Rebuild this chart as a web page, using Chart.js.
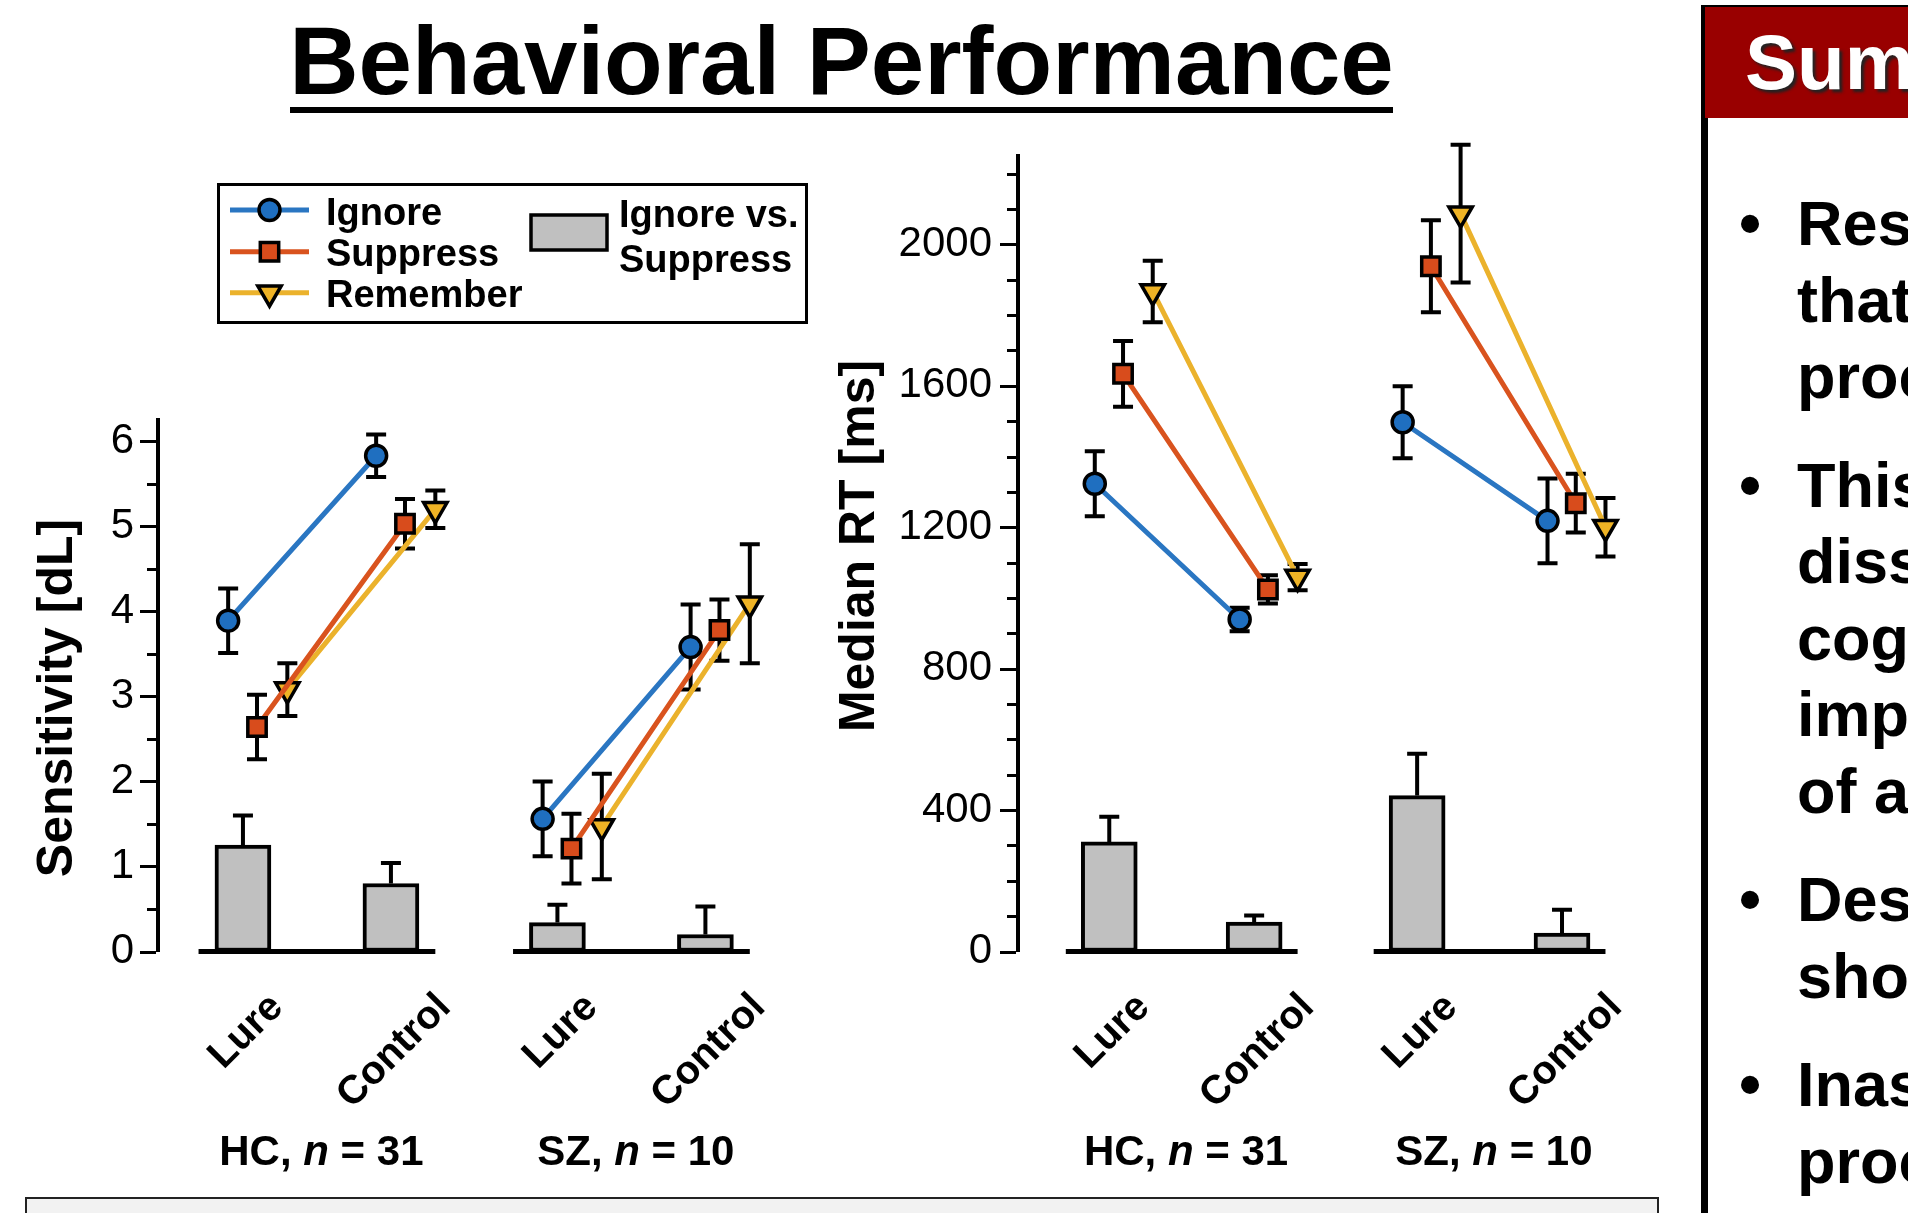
<!DOCTYPE html>
<html>
<head>
<meta charset="utf-8">
<title>Behavioral Performance</title>
<script src="https://cdn.jsdelivr.net/npm/chart.js@4.4.0/dist/chart.umd.min.js"></script>
<style>
  html, body { margin: 0; padding: 0; background: #fff; }
  body { width: 1908px; height: 1213px; position: relative; overflow: hidden;
         font-family: "Liberation Sans", Arial, sans-serif; color: #000; }
  #title { position: absolute; left: 0; top: 13px; width: 1683px; text-align: center;
           font-weight: bold; font-size: 96px; line-height: 96px; white-space: nowrap; }
  #rule { position: absolute; left: 290px; top: 107px; width: 1103px; height: 6px; background: #000; }
  #footer { position: absolute; left: 25px; top: 1197px; width: 1630px; height: 40px;
            background: #f2f2f2; border: 2px solid #222; }
  #leftChart { position: absolute; left: 0; top: 140px; }
  #rightChart { position: absolute; left: 820px; top: 100px; }
  #summary { position: absolute; left: 1701px; top: 5px; width: 260px; height: 1260px;
             border-left: 4px solid #000; border-top: 2px solid #000; }
  #summary .head { height: 111px; background: #990000; color: #fff; font-weight: bold;
                   font-size: 78px; line-height: 111px; padding-left: 40px; white-space: nowrap;
                   text-shadow: 3px 3px 3px #222; }
  #summary .body { border-left: 3px solid #000; height: 1200px; padding-top: 67px; box-sizing: border-box; }
  #summary .item { position: relative; padding-left: 89px; margin-bottom: 32px; font-weight: bold;
                   font-size: 63px; line-height: 76.5px; white-space: nowrap; }
  #summary .item span { position: absolute; left: 31px; top: 0; }
</style>
</head>
<body>
<div id="title">Behavioral Performance</div>
<div id="rule"></div>
<canvas id="leftChart" width="815" height="1073"></canvas>
<canvas id="rightChart" width="840" height="1113"></canvas>
<div id="footer"></div>
<div id="summary">
  <div class="head">Summary</div>
  <div class="body">
    <div class="item"><span>•</span>Results suggest<br>that lure<br>processing</div>
    <div class="item"><span>•</span>This suggests a<br>dissociation<br>cognitive control<br>impairments<br>of attention</div>
    <div class="item"><span>•</span>Despite this, SZ<br>showed</div>
    <div class="item"><span>•</span>Inasmuch as<br>processing</div>
  </div>
</div>

<script>
// groups and conditions (order of every value array: HC Lure, HC Control, SZ Lure, SZ Control)
const groupNames = ['HC', 'SZ'];
const groupN = [31, 10];
const conditions = ['Lure', 'Control'];
const seriesNames = ['Ignore', 'Suppress', 'Remember'];
const diffLabel = ['Ignore vs.', 'Suppress'];

// Sensitivity [dL]
const dlIgnore = [3.89, 5.83, 1.56, 3.58];
const dlIgnoreErr = [0.38, 0.25, 0.44, 0.50];
const dlSuppress = [2.64, 5.03, 1.21, 3.78];
const dlSuppressErr = [0.38, 0.29, 0.41, 0.36];
const dlRemember = [3.08, 5.20, 1.47, 4.09];
const dlRememberErr = [0.31, 0.22, 0.62, 0.70];
const dlDiff = [1.25, 0.80, 0.34, 0.20];
const dlDiffErr = [0.35, 0.24, 0.21, 0.33];
const dlTicks = [0, 1, 2, 3, 4, 5, 6];

// Median RT [ms]
const rtIgnore = [1323, 939, 1497, 1218];
const rtIgnoreErr = [92, 33, 102, 120];
const rtSuppress = [1634, 1024, 1938, 1268];
const rtSuppressErr = [93, 40, 130, 83];
const rtRemember = [1867, 1059, 2087, 1200];
const rtRememberErr = [87, 37, 195, 83];
const rtDiff = [310, 83, 441, 52];
const rtDiffErr = [71, 19, 118, 66];
const rtTicks = [0, 400, 800, 1200, 1600, 2000];

// layout of the x positions (in condition units)
const groupPos = [0, 2.125];
const condPos = [0, 1];
const seriesOffset = [-0.1, 0.095, 0.3];

// styles
const FONT = '"Liberation Sans", Arial, sans-serif';
const lineColor = ['#2a76c2', '#d9531e', '#ebb22c'];
const markerFill = ['#1f6fc0', '#d84c1c', '#efb325'];
const markerStyle = ['circle', 'rect', 'triangle'];
const markerRadius = [10.5, 13, 13.5];
const markerRotation = [0, 0, 180];
const ERR_W = 4;

Chart.defaults.font.family = FONT;

function xAt(i) {
  return groupPos[Math.floor(i / 2)] + condPos[i % 2];
}

function seriesPoints(values, off) {
  const pts = [];
  values.forEach((v, i) => {
    if (i === 2) pts.push({ x: (xAt(1) + xAt(2)) / 2, y: null });
    pts.push({ x: xAt(i) + off, y: v });
  });
  return pts;
}

function isTick(list, v) {
  return list.some(t => Math.abs(t - v) < 1e-6);
}

function drawMarker(ctx, s, x, y) {
  const opts = {
    pointStyle: markerStyle[s], radius: markerRadius[s], rotation: markerRotation[s],
    borderWidth: 3.5
  };
  ctx.save();
  ctx.fillStyle = markerFill[s];
  ctx.strokeStyle = '#000';
  ctx.lineWidth = 3.5;
  Chart.helpers.drawPoint(ctx, opts, x, y);
  ctx.restore();
}

function decorPlugin(cfg) {
  return {
    id: 'decor',
    beforeDatasetsDraw(chart) {
      const ctx = chart.ctx, xs = chart.scales.x, ys = chart.scales.y;
      ctx.save();
      ctx.strokeStyle = '#000';
      ctx.lineWidth = ERR_W;
      cfg.series.forEach((vals, s) => {
        vals.forEach((v, i) => {
          const e = cfg.seriesErr[s][i];
          const x = xs.getPixelForValue(xAt(i) + seriesOffset[s]);
          const yT = ys.getPixelForValue(v + e), yB = ys.getPixelForValue(v - e);
          ctx.beginPath();
          ctx.moveTo(x, yT); ctx.lineTo(x, yB);
          ctx.moveTo(x - 10, yT); ctx.lineTo(x + 10, yT);
          ctx.moveTo(x - 10, yB); ctx.lineTo(x + 10, yB);
          ctx.stroke();
        });
      });
      ctx.restore();
    },
    afterDatasetsDraw(chart) {
      const ctx = chart.ctx, xs = chart.scales.x, ys = chart.scales.y;
      const area = chart.chartArea;
      const y0 = ys.getPixelForValue(0);
      ctx.save();
      ctx.strokeStyle = '#000';
      // one-sided error bars on the difference bars
      ctx.lineWidth = ERR_W;
      cfg.diff.forEach((v, i) => {
        const x = xs.getPixelForValue(xAt(i));
        const yT = ys.getPixelForValue(v + cfg.diffErr[i]);
        const yB = ys.getPixelForValue(v);
        ctx.beginPath();
        ctx.moveTo(x, yB); ctx.lineTo(x, yT);
        ctx.moveTo(x - 10, yT); ctx.lineTo(x + 10, yT);
        ctx.stroke();
      });
      // baselines of each group
      ctx.lineWidth = 5;
      groupPos.forEach(g => {
        ctx.beginPath();
        ctx.moveTo(xs.getPixelForValue(g + condPos[0] - 0.3), y0);
        ctx.lineTo(xs.getPixelForValue(g + condPos[1] + 0.3), y0);
        ctx.stroke();
      });
      // y tick marks, major and minor
      ctx.lineWidth = 3;
      for (let k = 0; k * cfg.minorStep <= cfg.yMax + 1e-9; k++) {
        const v = k * cfg.minorStep;
        const major = isTick(cfg.ticks, v);
        const y = Math.round(ys.getPixelForValue(v)) + 0.5;
        ctx.beginPath();
        ctx.moveTo(area.left - 2 - (major ? 16 : 9), y);
        ctx.lineTo(area.left - 2, y);
        ctx.stroke();
      }
      ctx.restore();
    },
    afterDraw(chart) {
      const ctx = chart.ctx, xs = chart.scales.x, ys = chart.scales.y;
      const y0 = ys.getPixelForValue(0);
      ctx.save();
      ctx.fillStyle = '#000';
      // rotated condition labels
      ctx.font = 'bold 40px ' + FONT;
      ctx.textAlign = 'center';
      ctx.textBaseline = 'middle';
      [0, 1, 2, 3].forEach(i => {
        const txt = conditions[i % 2];
        const w = ctx.measureText(txt).width;
        const ext = (w + 40 * 0.72) * Math.SQRT1_2;
        ctx.save();
        ctx.translate(xs.getPixelForValue(xAt(i)) + 2, y0 + 38 + ext / 2);
        ctx.rotate(-Math.PI / 4);
        ctx.fillText(txt, 0, 2);
        ctx.restore();
      });
      // group labels "HC, n = 31"
      ctx.textAlign = 'left';
      ctx.textBaseline = 'alphabetic';
      groupNames.forEach((g, k) => {
        const parts = [
          ['bold 42px ', g + ', '],
          ['italic bold 42px ', 'n'],
          ['bold 42px ', ' = ' + groupN[k]]
        ];
        let total = 0;
        parts.forEach(p => { ctx.font = p[0] + FONT; total += ctx.measureText(p[1]).width; });
        let x = xs.getPixelForValue(groupPos[k] + 0.53) - total / 2;
        parts.forEach(p => {
          ctx.font = p[0] + FONT;
          ctx.fillText(p[1], x, y0 + 213.5);
          x += ctx.measureText(p[1]).width;
        });
      });
      // y axis title
      ctx.save();
      ctx.font = 'bold 50px ' + FONT;
      ctx.textAlign = 'center';
      ctx.textBaseline = 'middle';
      ctx.translate(cfg.titleX, cfg.titleY);
      ctx.rotate(-Math.PI / 2);
      ctx.fillText(cfg.title, 0, 0);
      ctx.restore();
      // legend (left chart only)
      if (cfg.legend) {
        const L = cfg.legend;
        ctx.lineWidth = 3;
        ctx.strokeStyle = '#000';
        ctx.strokeRect(L.x, L.y, L.w, L.h);
        ctx.font = 'bold 38px ' + FONT;
        seriesNames.forEach((name, s) => {
          const ry = L.rowY[s];
          ctx.strokeStyle = lineColor[s];
          ctx.lineWidth = 5;
          ctx.beginPath();
          ctx.moveTo(L.lineX0, ry); ctx.lineTo(L.lineX1, ry);
          ctx.stroke();
          drawMarker(ctx, s, (L.lineX0 + L.lineX1) / 2, ry);
          ctx.fillStyle = '#000';
          ctx.fillText(name, L.textX, ry + 14.5);
        });
        ctx.fillStyle = '#c0c0c0';
        ctx.fillRect(L.boxX, L.boxY, L.boxW, L.boxH);
        ctx.strokeStyle = '#000';
        ctx.lineWidth = 3.5;
        ctx.strokeRect(L.boxX, L.boxY, L.boxW, L.boxH);
        ctx.fillStyle = '#000';
        diffLabel.forEach((t, k) => ctx.fillText(t, L.diffTextX, L.diffBase[k]));
      }
      ctx.restore();
    }
  };
}

function makeChart(id, cfg) {
  const datasets = cfg.series.map((vals, s) => ({
    type: 'line',
    label: seriesNames[s],
    data: seriesPoints(vals, seriesOffset[s]),
    borderColor: lineColor[s],
    borderWidth: 5,
    tension: 0,
    spanGaps: false,
    clip: false,
    pointStyle: markerStyle[s],
    pointRadius: markerRadius[s],
    pointRotation: markerRotation[s],
    pointBackgroundColor: markerFill[s],
    pointBorderColor: '#000',
    pointBorderWidth: 3.5,
    order: s + 1
  }));
  datasets.push({
    type: 'bar',
    label: diffLabel.join(' '),
    data: cfg.diff.map((v, i) => ({ x: xAt(i), y: v })),
    backgroundColor: '#c0c0c0',
    borderColor: '#000',
    borderWidth: 4,
    borderSkipped: false,
    barThickness: 56,
    order: 10
  });

  return new Chart(document.getElementById(id), {
    type: 'line',
    data: { datasets },
    options: {
      responsive: false,
      animation: false,
      devicePixelRatio: 1,
      layout: { padding: cfg.padding },
      plugins: { legend: { display: false }, tooltip: { enabled: false } },
      scales: {
        x: { type: 'linear', offset: false, min: cfg.xMin, max: cfg.xMax, display: false },
        y: {
          type: 'linear', min: 0, max: cfg.yMax,
          afterFit: scale => { scale.width = cfg.axisWidth; },
          grid: { display: false, drawTicks: false },
          border: { display: true, color: '#000', width: 4 },
          ticks: {
            stepSize: cfg.minorStep,
            includeBounds: false,
            autoSkip: false,
            padding: cfg.tickPad,
            color: '#000',
            font: { size: 42, family: FONT },
            callback: v => isTick(cfg.ticks, v) ? String(Math.round(v)) : ''
          }
        }
      }
    },
    plugins: [decorPlugin(cfg)]
  });
}

// Sensitivity chart
makeChart('leftChart', {
  series: [dlIgnore, dlSuppress, dlRemember],
  seriesErr: [dlIgnoreErr, dlSuppressErr, dlRememberErr],
  diff: dlDiff,
  diffErr: dlDiffErr,
  ticks: dlTicks,
  minorStep: 0.5,
  yMax: 6.25,
  xMin: -0.574,
  xMax: 3.602,
  axisWidth: 158,
  tickPad: 24,
  padding: { top: 280, bottom: 261.5, left: 0, right: 39 },
  title: 'Sensitivity [dL]',
  titleX: 58,
  titleY: 558,
  legend: {
    x: 218.5, y: 44.5, w: 588, h: 138,
    rowY: [70, 111.7, 152.7],
    lineX0: 230, lineX1: 309, textX: 326,
    boxX: 531, boxY: 75, boxW: 76, boxH: 35,
    diffTextX: 619, diffBase: [86.5, 132]
  }
});

// Median RT chart
makeChart('rightChart', {
  series: [rtIgnore, rtSuppress, rtRemember],
  seriesErr: [rtIgnoreErr, rtSuppressErr, rtRememberErr],
  diff: rtDiff,
  diffErr: rtDiffErr,
  ticks: rtTicks,
  minorStep: 100,
  yMax: 2250,
  xMin: -0.63,
  xMax: 3.684,
  axisWidth: 198,
  tickPad: 26,
  padding: { top: 56, bottom: 261.5, left: 0, right: 10 },
  title: 'Median RT [ms]',
  titleX: 40,
  titleY: 446,
  legend: null
});
</script>
</body>
</html>
